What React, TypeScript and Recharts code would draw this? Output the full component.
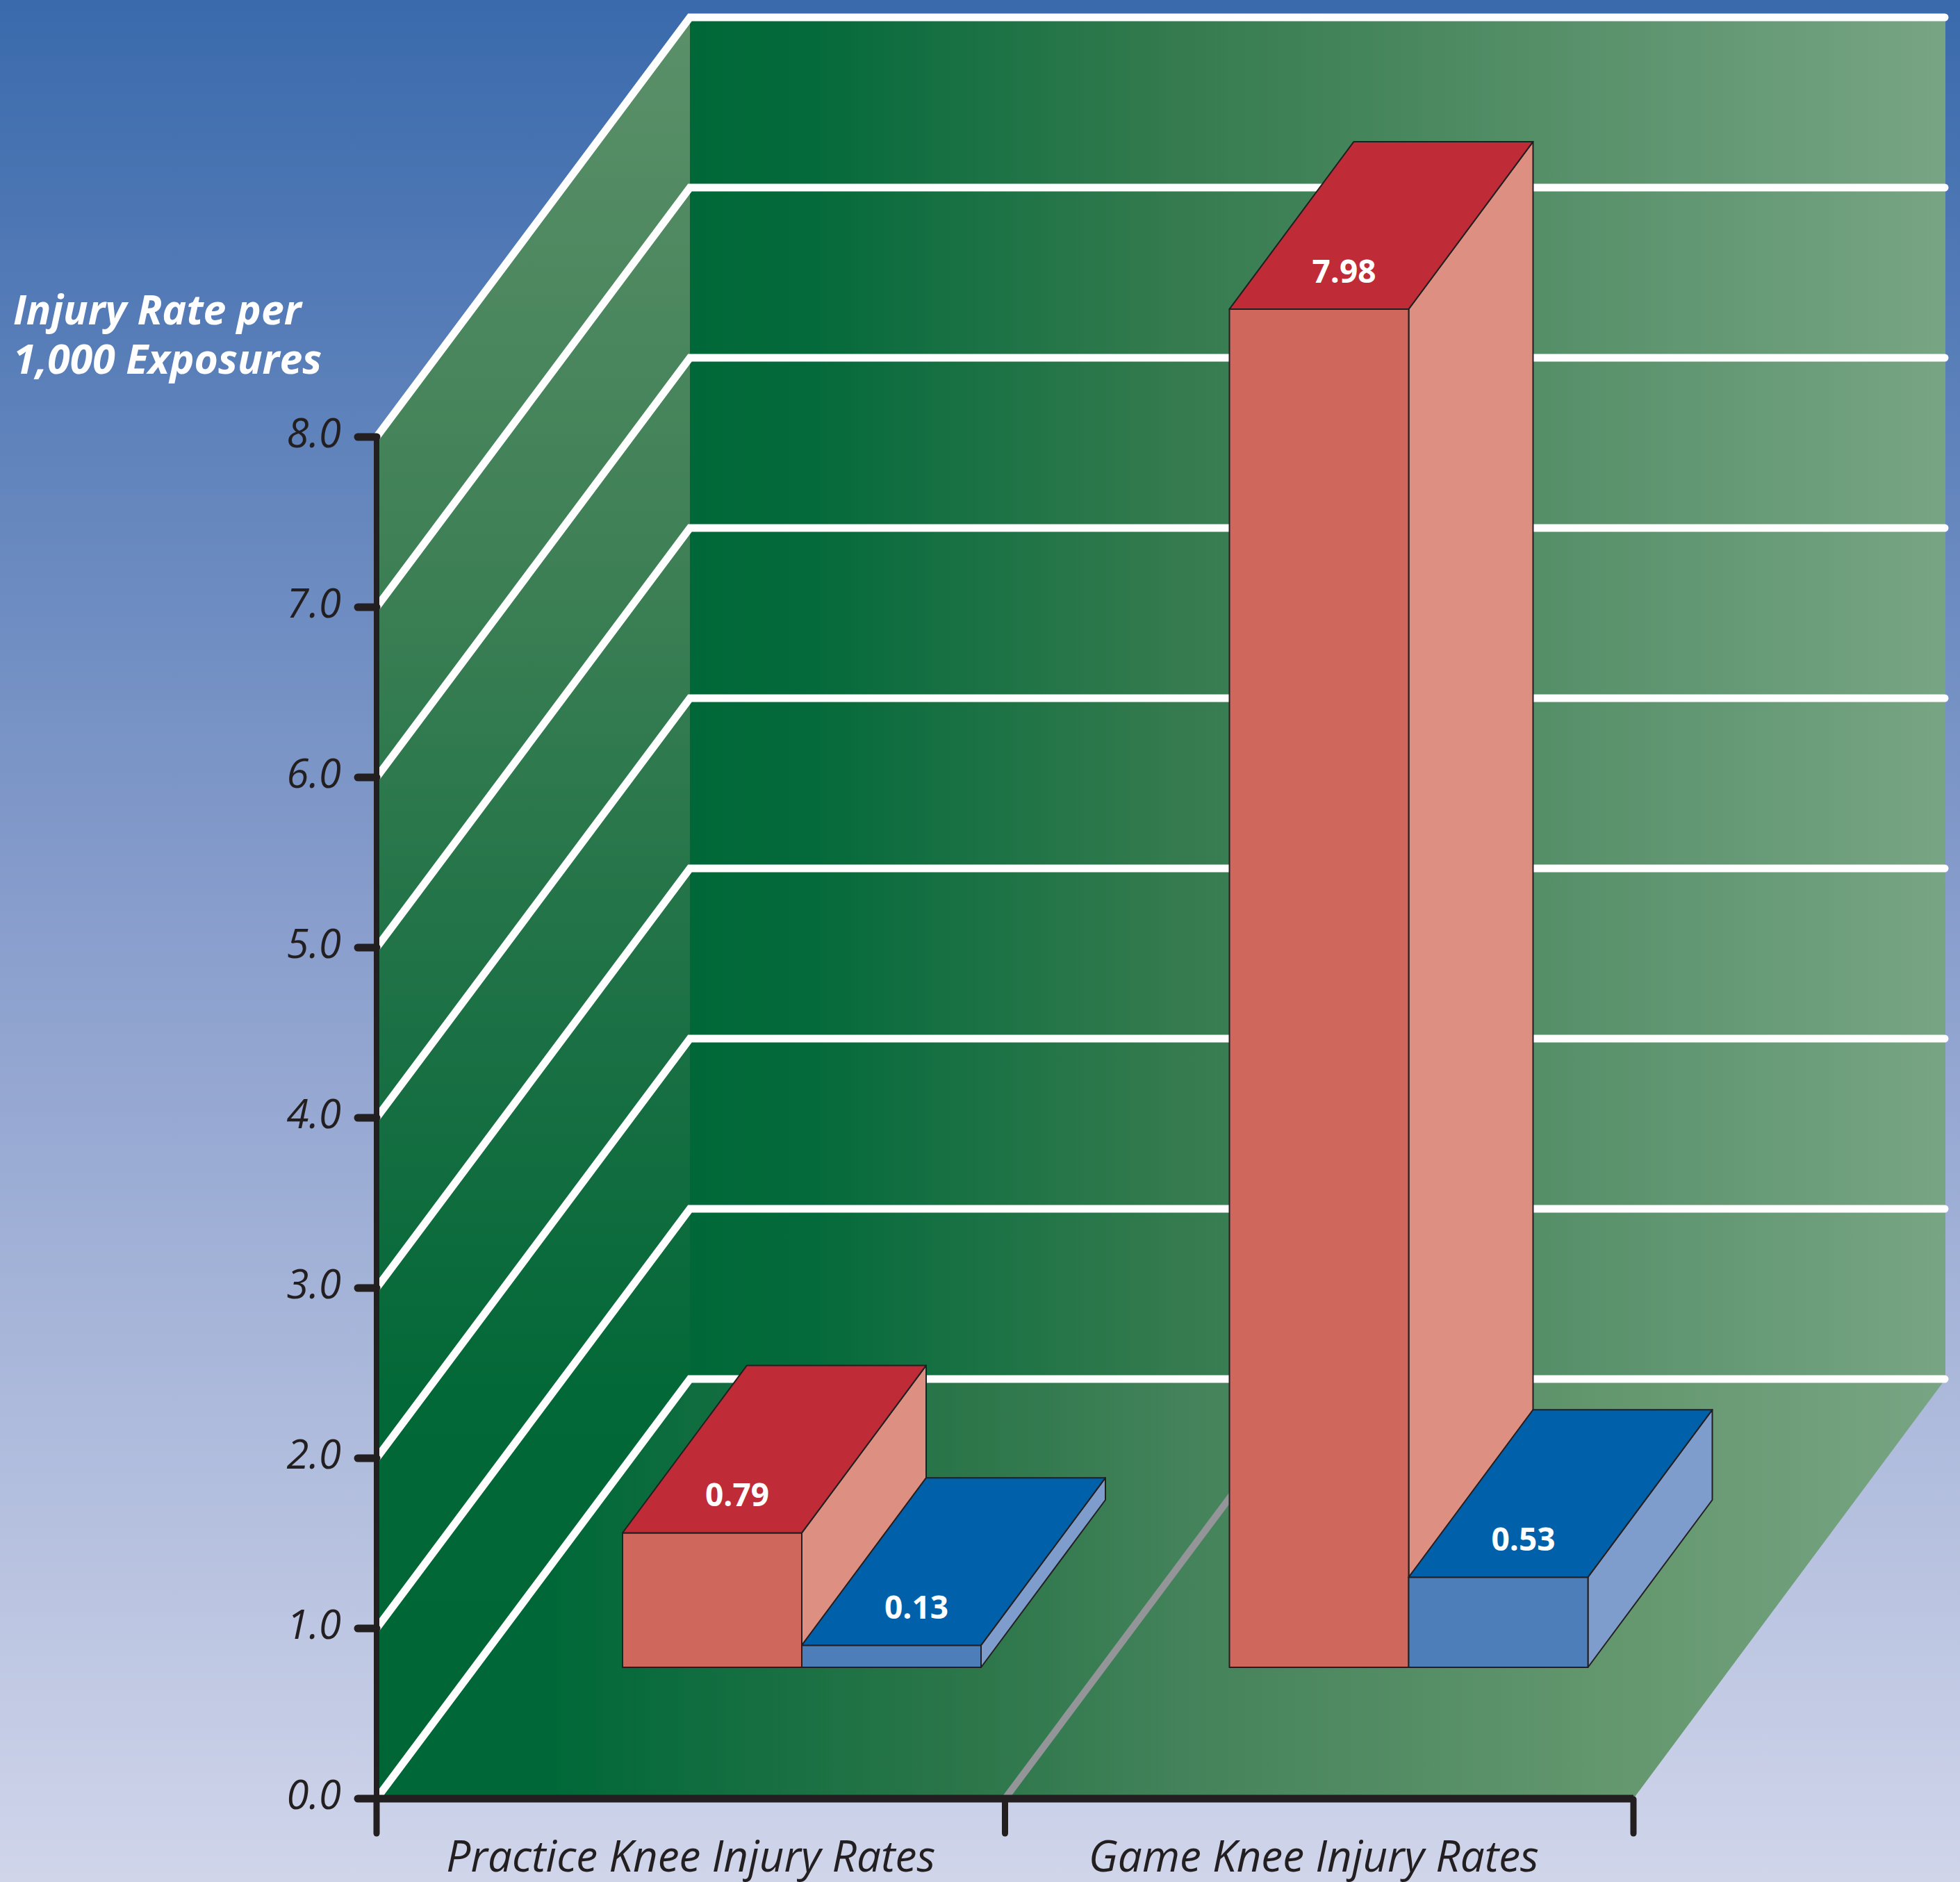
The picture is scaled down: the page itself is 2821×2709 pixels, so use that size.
import { Bar, ComposedChart, ReferenceArea, XAxis, YAxis } from "recharts";

const categories = ["Practice Knee Injury Rates", "Game Knee Injury Rates"];
const redRates = [0.79, 7.98];
const blueRates = [0.13, 0.53];
const yTicks = [0, 1, 2, 3, 4, 5, 6, 7, 8];
const yTitle = ["Injury Rate per", "1,000 Exposures"];

const data = categories.map((category, i) => ({
  category,
  red: redRates[i],
  blue: blueRates[i],
}));

const WIDTH = 2821;
const HEIGHT = 2709;
const AXIS_COLOR = "#231f20";
const FONT = "'Open Sans', sans-serif";

// how far the back wall sits from the front plane
const DEPTH_X = 451;
const DEPTH_Y = 604;
// bars stand part way back on the floor, and have their own depth
const BAR_LIFT = 189;
const BAR_DEPTH_X = 179;
const BAR_DEPTH_Y = 241;

function Room(props: any) {
  const { x, y, width, height } = props;
  const bottom = y + height;
  const right = x + width;
  return (
    <g>
      <defs>
        <linearGradient id="backWall" gradientUnits="userSpaceOnUse" x1={x + DEPTH_X} y1="0" x2={right + DEPTH_X} y2="0">
          <stop offset="0%" stopColor="#006838" />
          <stop offset="10%" stopColor="#056a3b" />
          <stop offset="39%" stopColor="#357b4f" />
          <stop offset="100%" stopColor="#78a584" />
        </linearGradient>
        <linearGradient id="floor" gradientUnits="userSpaceOnUse" x1={x} y1="0" x2={right + DEPTH_X} y2="0">
          <stop offset="11%" stopColor="#006838" />
          <stop offset="38%" stopColor="#2c764a" />
          <stop offset="51%" stopColor="#43825a" />
          <stop offset="80%" stopColor="#65986f" />
          <stop offset="100%" stopColor="#78a584" />
        </linearGradient>
        <linearGradient id="leftWall" gradientUnits="userSpaceOnUse" x1="0" y1={y - DEPTH_Y} x2="0" y2={bottom}>
          <stop offset="0%" stopColor="#5b9069" />
          <stop offset="30%" stopColor="#3f8056" />
          <stop offset="57%" stopColor="#1a7044" />
          <stop offset="77%" stopColor="#036837" />
          <stop offset="100%" stopColor="#006534" />
        </linearGradient>
      </defs>
      <rect x={x + DEPTH_X} y={y - DEPTH_Y} width={width - 2} height={height} fill="url(#backWall)" />
      <polygon
        points={`${x},${bottom} ${right},${bottom} ${right + DEPTH_X - 2},${bottom - DEPTH_Y} ${x + DEPTH_X},${bottom - DEPTH_Y}`}
        fill="url(#floor)"
      />
      <polygon
        points={`${x},${y} ${x + DEPTH_X},${y - DEPTH_Y} ${x + DEPTH_X},${bottom - DEPTH_Y} ${x},${bottom}`}
        fill="url(#leftWall)"
      />
      <line
        x1={x + width / 2}
        y1={bottom}
        x2={x + width / 2 + DEPTH_X}
        y2={bottom - DEPTH_Y}
        stroke="#939598"
        strokeWidth={10}
      />
    </g>
  );
}

// a zero height reference area, so it stays under the bars
function GridLine(props: any) {
  const { x, y, width } = props;
  return (
    <path
      d={`M${x},${y} L${x + DEPTH_X},${y - DEPTH_Y} L${x + width + DEPTH_X - 3},${y - DEPTH_Y}`}
      fill="none"
      stroke="#ffffff"
      strokeWidth={11}
      strokeLinecap="round"
      strokeLinejoin="miter"
    />
  );
}

function makeBox(front: string, side: string, top: string) {
  return function Box(props: any) {
    const { x, width, value } = props;
    const rate = Array.isArray(value) ? value[1] : value;
    const yTop = props.y - BAR_LIFT;
    const yBase = yTop + props.height;
    const r = x + width;
    return (
      <g stroke={AXIS_COLOR} strokeWidth={2} strokeLinejoin="round">
        <polygon
          points={`${r},${yTop} ${r + BAR_DEPTH_X},${yTop - BAR_DEPTH_Y} ${r + BAR_DEPTH_X},${yBase - BAR_DEPTH_Y} ${r},${yBase}`}
          fill={side}
        />
        <rect x={x} y={yTop} width={width} height={props.height} fill={front} />
        <polygon
          points={`${x},${yTop} ${r},${yTop} ${r + BAR_DEPTH_X},${yTop - BAR_DEPTH_Y} ${x + BAR_DEPTH_X},${yTop - BAR_DEPTH_Y}`}
          fill={top}
        />
        <text
          x={x + width / 2 + 36}
          y={yTop - 38}
          textAnchor="middle"
          fill="#ffffff"
          stroke="none"
          fontFamily={FONT}
          fontWeight={700}
          fontSize={46}
        >
          {rate.toFixed(2)}
        </text>
      </g>
    );
  };
}

const RedBox = makeBox("#cf675d", "#dd8f82", "#bf2b37");
const BlueBox = makeBox("#4d7eb9", "#7e9dcc", "#0061aa");

// labels sit mid band, tick marks sit on the band edges
function CategoryTick(props: any) {
  const { x, y, index, payload } = props;
  const half = props.bandHalf;
  return (
    <g>
      <line x1={x - half} y1={y - 7} x2={x - half} y2={y + 42} stroke={AXIS_COLOR} strokeWidth={9} strokeLinecap="round" />
      {index === categories.length - 1 && (
        <line x1={x + half} y1={y - 7} x2={x + half} y2={y + 42} stroke={AXIS_COLOR} strokeWidth={9} strokeLinecap="round" />
      )}
      <text x={index === 0 ? x : x - 8} y={y + 97} textAnchor="middle" fill={AXIS_COLOR} fontFamily={FONT} fontStyle="italic" fontSize={62}>
        {payload.value}
      </text>
    </g>
  );
}

export default function App(): React.JSX.Element {
  return (
    <div
      style={{
        position: "absolute",
        left: 0,
        top: 0,
        width: WIDTH,
        height: HEIGHT,
        background: "linear-gradient(180deg, #3a6aac 0%, #8a9fcd 50%, #d0d5ea 100%)",
      }}
    >
      <ComposedChart
        width={WIDTH}
        height={HEIGHT}
        data={data}
        margin={{ top: 629, right: 470, bottom: 0, left: 0 }}
        barSize={258}
        barGap={0}
      >
        <XAxis
          xAxisId="labels"
          dataKey="category"
          height={120}
          interval={0}
          axisLine={{ stroke: AXIS_COLOR, strokeWidth: 11 }}
          tickLine={false}
          tick={<CategoryTick bandHalf={452.25} />}
        />
        <XAxis xAxisId="bars" dataKey="category" hide height={0} padding={{ left: 175, right: -113 }} />
        <YAxis
          width={542}
          domain={[0, 8]}
          ticks={yTicks}
          interval={0}
          tickFormatter={(v: number) => v.toFixed(1)}
          axisLine={{ stroke: AXIS_COLOR, strokeWidth: 8 }}
          tickLine={{ stroke: AXIS_COLOR, strokeWidth: 11, strokeLinecap: "round" }}
          tickSize={27}
          tickMargin={24}
          tick={{ fill: AXIS_COLOR, fontFamily: FONT, fontStyle: "italic", fontSize: 58, dy: -6 }}
        />
        <ReferenceArea xAxisId="labels" y1={0} y2={8} shape={<Room />} fillOpacity={1} />
        {yTicks.map((v) => (
          <ReferenceArea key={v} xAxisId="labels" y1={v} y2={v} shape={<GridLine />} />
        ))}
        <Bar xAxisId="bars" dataKey="red" shape={<RedBox />} isAnimationActive={false} />
        <Bar xAxisId="bars" dataKey="blue" shape={<BlueBox />} isAnimationActive={false} />
        <text fill="#ffffff" fontFamily={FONT} fontStyle="italic" fontWeight={700} fontSize={59}>
          <tspan x={19} y={467}>{yTitle[0]}</tspan>
          <tspan x={19} y={538}>{yTitle[1]}</tspan>
        </text>
      </ComposedChart>
    </div>
  );
}
